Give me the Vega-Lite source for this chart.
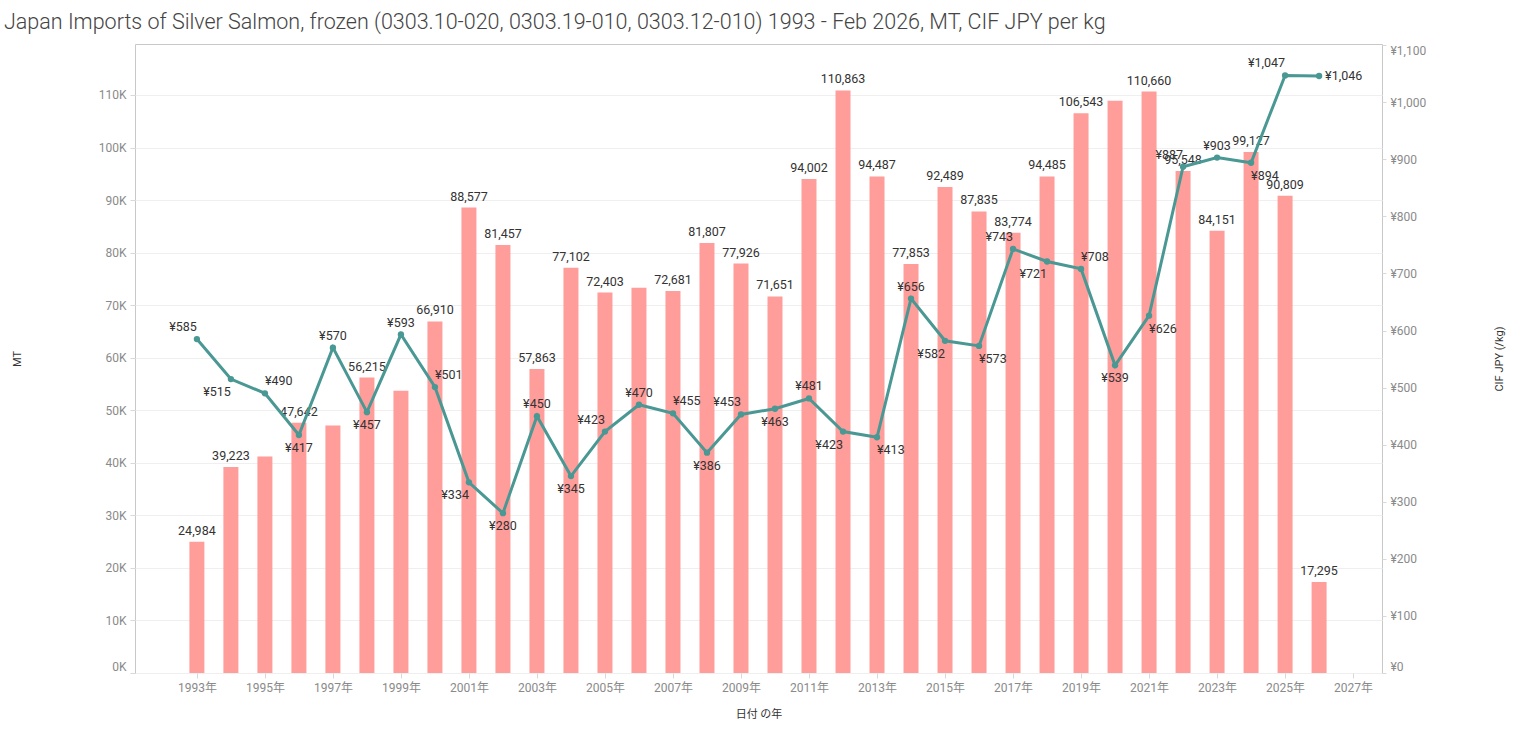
{
  "$schema": "https://vega.github.io/schema/vega-lite/v6.json",
  "autosize": {"type": "none"},
  "width": 1247,
  "height": 629,
  "padding": {"left": 135, "top": 44, "right": 135, "bottom": 59},
  "title": {
    "text": "Japan Imports of Silver Salmon, frozen (0303.10-020, 0303.19-010, 0303.12-010) 1993 - Feb 2026, MT, CIF JPY per kg",
    "anchor": "start",
    "frame": "group",
    "dx": -131,
    "offset": 11,
    "fontSize": 21.5,
    "fontWeight": 300,
    "color": "#444444"
  },
  "config": {
    "font": "Roboto, 'Noto Sans CJK JP', sans-serif",
    "locale": {"number": {"decimal": ".", "thousands": ",", "grouping": [3], "currency": ["¥", ""]}},
    "view": {"stroke": "#c8c8c8"},
    "axis": {
      "labelColor": "#8a8a8a",
      "labelFontSize": 12,
      "titleColor": "#333333",
      "titleFontSize": 11,
      "titleFontWeight": "normal",
      "tickColor": "#d8d8d8",
      "domain": false,
      "gridColor": "#efefef"
    }
  },
  "data": {
    "values": [
      {"year": 1993, "mt": 24984, "price": 585},
      {"year": 1994, "mt": 39223, "price": 515},
      {"year": 1995, "mt": 41200, "price": 490},
      {"year": 1996, "mt": 47642, "price": 417},
      {"year": 1997, "mt": 47100, "price": 570},
      {"year": 1998, "mt": 56215, "price": 457},
      {"year": 1999, "mt": 53700, "price": 593},
      {"year": 2000, "mt": 66910, "price": 501},
      {"year": 2001, "mt": 88577, "price": 334},
      {"year": 2002, "mt": 81457, "price": 280},
      {"year": 2003, "mt": 57863, "price": 450},
      {"year": 2004, "mt": 77102, "price": 345},
      {"year": 2005, "mt": 72403, "price": 423},
      {"year": 2006, "mt": 73300, "price": 470},
      {"year": 2007, "mt": 72681, "price": 455},
      {"year": 2008, "mt": 81807, "price": 386},
      {"year": 2009, "mt": 77926, "price": 453},
      {"year": 2010, "mt": 71651, "price": 463},
      {"year": 2011, "mt": 94002, "price": 481},
      {"year": 2012, "mt": 110863, "price": 423},
      {"year": 2013, "mt": 94487, "price": 413},
      {"year": 2014, "mt": 77853, "price": 656},
      {"year": 2015, "mt": 92489, "price": 582},
      {"year": 2016, "mt": 87835, "price": 573},
      {"year": 2017, "mt": 83774, "price": 743},
      {"year": 2018, "mt": 94485, "price": 721},
      {"year": 2019, "mt": 106543, "price": 708},
      {"year": 2020, "mt": 108900, "price": 539},
      {"year": 2021, "mt": 110660, "price": 626},
      {"year": 2022, "mt": 95548, "price": 887},
      {"year": 2023, "mt": 84151, "price": 903},
      {"year": 2024, "mt": 99127, "price": 894},
      {"year": 2025, "mt": 90809, "price": 1047},
      {"year": 2026, "mt": 17295, "price": 1046}
    ]
  },
  "layer": [
    {
      "encoding": {
        "x": {
          "field": "year",
          "type": "quantitative",
          "scale": {"domain": [1991.18, 2027.85], "nice": false, "zero": false, "padding": 0},
          "axis": {
            "values": [1993, 1995, 1997, 1999, 2001, 2003, 2005, 2007, 2009, 2011, 2013, 2015, 2017, 2019, 2021, 2023, 2025, 2027],
            "labelExpr": "datum.value + '年'",
            "title": "日付 の年",
            "grid": false,
            "tickSize": 5,
            "labelPadding": 4,
            "titlePadding": 15
          }
        },
        "y": {
          "field": "mt",
          "type": "quantitative",
          "scale": {"domain": [0, 119700], "nice": false},
          "axis": {
            "title": "MT",
            "values": [0, 10000, 20000, 30000, 40000, 50000, 60000, 70000, 80000, 90000, 100000, 110000],
            "labelExpr": "format(datum.value / 1000, 'd') + 'K'",
            "grid": true,
            "tickSize": 5,
            "labelPadding": 4,
            "titleX": -113,
            "titleY": 314.5,
            "labelBaseline": {"condition": {"test": "datum.value === 0", "value": "bottom"}, "value": "middle"}
          }
        }
      },
      "layer": [
        {"mark": {"type": "bar", "width": 15, "color": "#FF9D9A"}},
        {
          "transform": [{"filter": {"not": {"field": "year", "oneOf": [1995, 1997, 1999, 2006, 2020]}}}],
          "mark": {"type": "text", "baseline": "bottom", "dy": -4, "fontSize": 12.5, "color": "#333333"},
          "encoding": {"text": {"field": "mt", "type": "quantitative", "format": ","}}
        }
      ]
    },
    {
      "encoding": {
        "x": {"field": "year", "type": "quantitative", "scale": {"domain": [1991.18, 2027.85], "nice": false, "zero": false, "padding": 0}},
        "y": {
          "field": "price",
          "type": "quantitative",
          "scale": {"domain": [0, 1102], "nice": false},
          "axis": {
            "orient": "right",
            "title": "CIF JPY (/kg)",
            "values": [0, 100, 200, 300, 400, 500, 600, 700, 800, 900, 1000, 1100],
            "format": "$,.0f",
            "grid": false,
            "tickSize": 4,
            "labelPadding": 4,
            "titleX": 122,
            "titleY": 314.5,
            "titleAngle": 270,
            "labelBaseline": {"condition": [{"test": "datum.value === 0", "value": "bottom"}, {"test": "datum.value === 1100", "value": "top"}], "value": "middle"}
          }
        }
      },
      "layer": [
        {"mark": {"type": "line", "color": "#499894", "strokeWidth": 3}},
        {"mark": {"type": "point", "filled": true, "size": 40, "color": "#499894", "opacity": 1}},
        {
          "transform": [{"filter": {"field": "year", "oneOf": [1997, 1999, 2003, 2006, 2011, 2014, 2023]}}],
          "mark": {"type": "text", "align": "center", "baseline": "middle", "dy": -12, "fontSize": 12.5, "color": "#333333"},
          "encoding": {"text": {"field": "price", "type": "quantitative", "format": "$,.0f"}}
        },
        {
          "transform": [{"filter": {"field": "year", "oneOf": [1993, 2005, 2009, 2017, 2022, 2025]}}],
          "mark": {"type": "text", "align": "right", "baseline": "middle", "dy": -12, "fontSize": 12.5, "color": "#333333"},
          "encoding": {"text": {"field": "price", "type": "quantitative", "format": "$,.0f"}}
        },
        {
          "transform": [{"filter": {"field": "year", "oneOf": [1995, 2000, 2007, 2019]}}],
          "mark": {"type": "text", "align": "left", "baseline": "middle", "dy": -12, "fontSize": 12.5, "color": "#333333"},
          "encoding": {"text": {"field": "price", "type": "quantitative", "format": "$,.0f"}}
        },
        {
          "transform": [{"filter": {"field": "year", "oneOf": [1996, 1998, 2002, 2004, 2008, 2010, 2020]}}],
          "mark": {"type": "text", "align": "center", "baseline": "middle", "dy": 13, "fontSize": 12.5, "color": "#333333"},
          "encoding": {"text": {"field": "price", "type": "quantitative", "format": "$,.0f"}}
        },
        {
          "transform": [{"filter": {"field": "year", "oneOf": [1994, 2001, 2012, 2015, 2018]}}],
          "mark": {"type": "text", "align": "right", "baseline": "middle", "dy": 13, "fontSize": 12.5, "color": "#333333"},
          "encoding": {"text": {"field": "price", "type": "quantitative", "format": "$,.0f"}}
        },
        {
          "transform": [{"filter": {"field": "year", "oneOf": [2013, 2016, 2021, 2024]}}],
          "mark": {"type": "text", "align": "left", "baseline": "middle", "dy": 13, "fontSize": 12.5, "color": "#333333"},
          "encoding": {"text": {"field": "price", "type": "quantitative", "format": "$,.0f"}}
        },
        {
          "transform": [{"filter": {"field": "year", "oneOf": [2026]}}],
          "mark": {"type": "text", "align": "left", "baseline": "middle", "dx": 6, "fontSize": 12.5, "color": "#333333"},
          "encoding": {"text": {"field": "price", "type": "quantitative", "format": "$,.0f"}}
        }
      ]
    }
  ],
  "resolve": {"scale": {"y": "independent"}}
}
